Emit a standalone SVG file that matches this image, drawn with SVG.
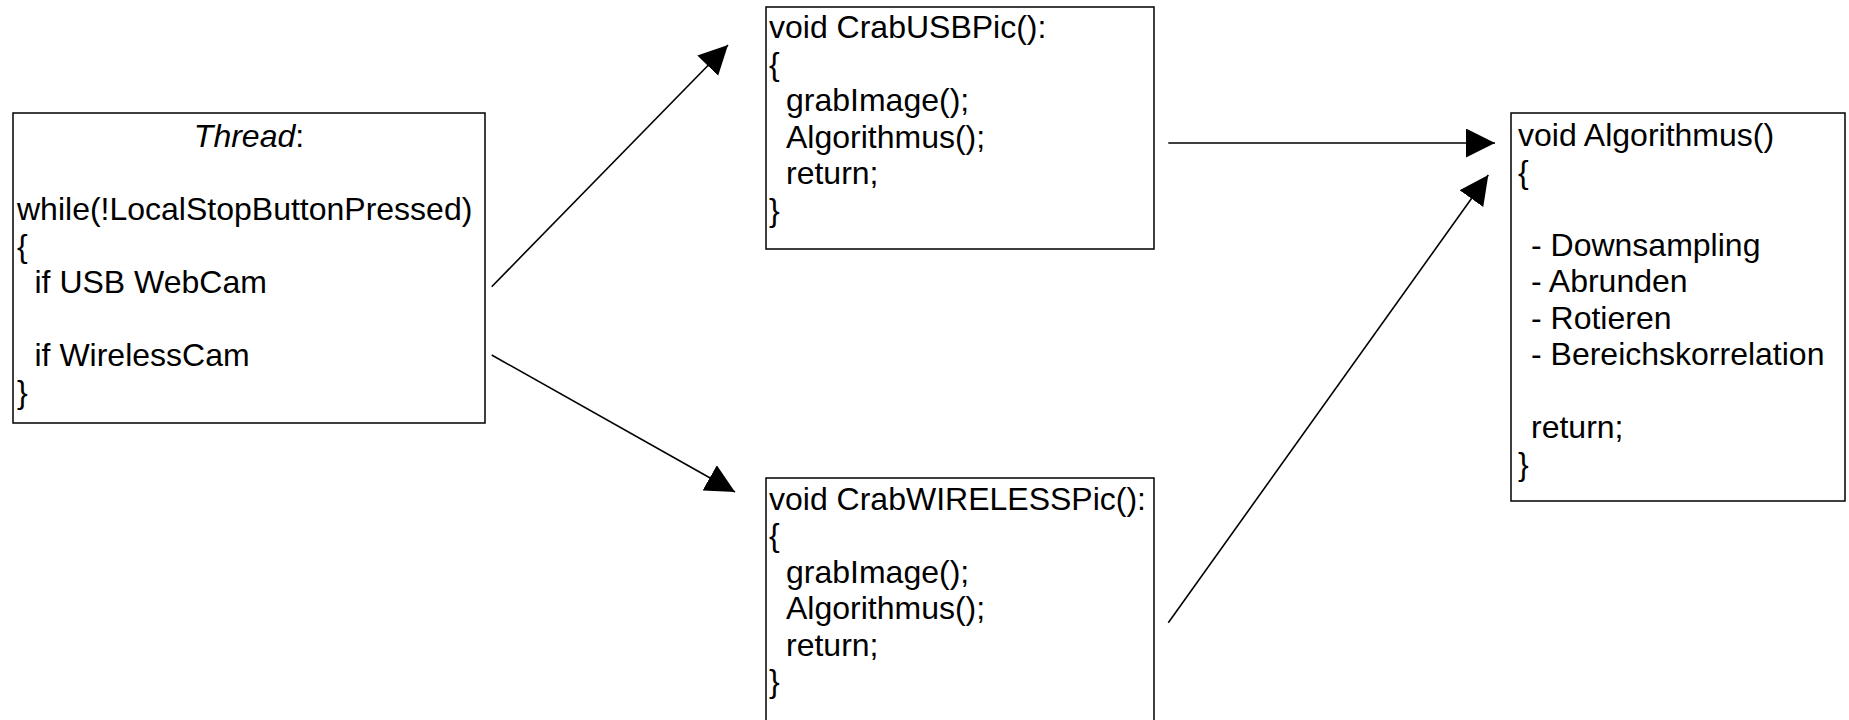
<svg xmlns="http://www.w3.org/2000/svg" width="1849" height="720" viewBox="0 0 1849 720">
<style>
.box{fill:#fff;stroke:#000;stroke-width:1.5}
.t{font-family:"Liberation Sans",Arial,sans-serif;font-size:32px;fill:#000}
.it{font-style:italic}
.c{stroke:#000;stroke-width:1.6;fill:none;marker-end:url(#ah)}
</style>
<defs>
<marker id="ah" markerUnits="userSpaceOnUse" markerWidth="30" markerHeight="30" refX="29" refY="14.5" orient="auto">
<path d="M0,0 L29,14.5 L0,29 z" fill="#000"/>
</marker>
</defs>
<rect width="1849" height="720" fill="#fff"/>
<g id="thread">
<rect class="box" x="13" y="113" width="472" height="310"/>
<text class="t" x="249" y="147" text-anchor="middle"><tspan class="it">Thread</tspan>:</text>
<text class="t" x="17" y="220">while(!LocalStopButtonPressed)</text>
<text class="t" x="17" y="256.5">{</text>
<text class="t" x="34.5" y="293">if USB WebCam</text>
<text class="t" x="34.5" y="366">if WirelessCam</text>
<text class="t" x="17" y="402.5">}</text>
</g>
<g id="crabusb">
<rect class="box" x="766" y="7" width="388" height="242"/>
<text class="t" x="769" y="38.3">void CrabUSBPic():</text>
<text class="t" x="769" y="74.8">{</text>
<text class="t" x="786" y="111.3">grabImage();</text>
<text class="t" x="786" y="147.8">Algorithmus();</text>
<text class="t" x="786" y="184.3">return;</text>
<text class="t" x="769" y="220.8">}</text>
</g>
<g id="crabwireless">
<rect class="box" x="766" y="478" width="388" height="260"/>
<text class="t" x="769" y="509.9">void CrabWIRELESSPic():</text>
<text class="t" x="769" y="546.4">{</text>
<text class="t" x="786" y="582.9">grabImage();</text>
<text class="t" x="786" y="619.4">Algorithmus();</text>
<text class="t" x="786" y="655.9">return;</text>
<text class="t" x="769" y="692.4">}</text>
</g>
<g id="algorithmus">
<rect class="box" x="1511" y="113" width="334" height="388"/>
<text class="t" x="1518" y="146">void Algorithmus()</text>
<text class="t" x="1518" y="182.5">{</text>
<text class="t" x="1531" y="255.5">- Downsampling</text>
<text class="t" x="1531" y="292">- Abrunden</text>
<text class="t" x="1531" y="328.5">- Rotieren</text>
<text class="t" x="1531" y="365">- Bereichskorrelation</text>
<text class="t" x="1531" y="438">return;</text>
<text class="t" x="1518" y="474.5">}</text>
</g>
<g id="connectors">
<line class="c" x1="491.7" y1="286.7" x2="728" y2="45"/>
<line class="c" x1="491.7" y1="355" x2="735" y2="492"/>
<line class="c" x1="1168.3" y1="143" x2="1495" y2="143"/>
<line class="c" x1="1168.3" y1="622.7" x2="1488.3" y2="175"/>
</g>
</svg>
